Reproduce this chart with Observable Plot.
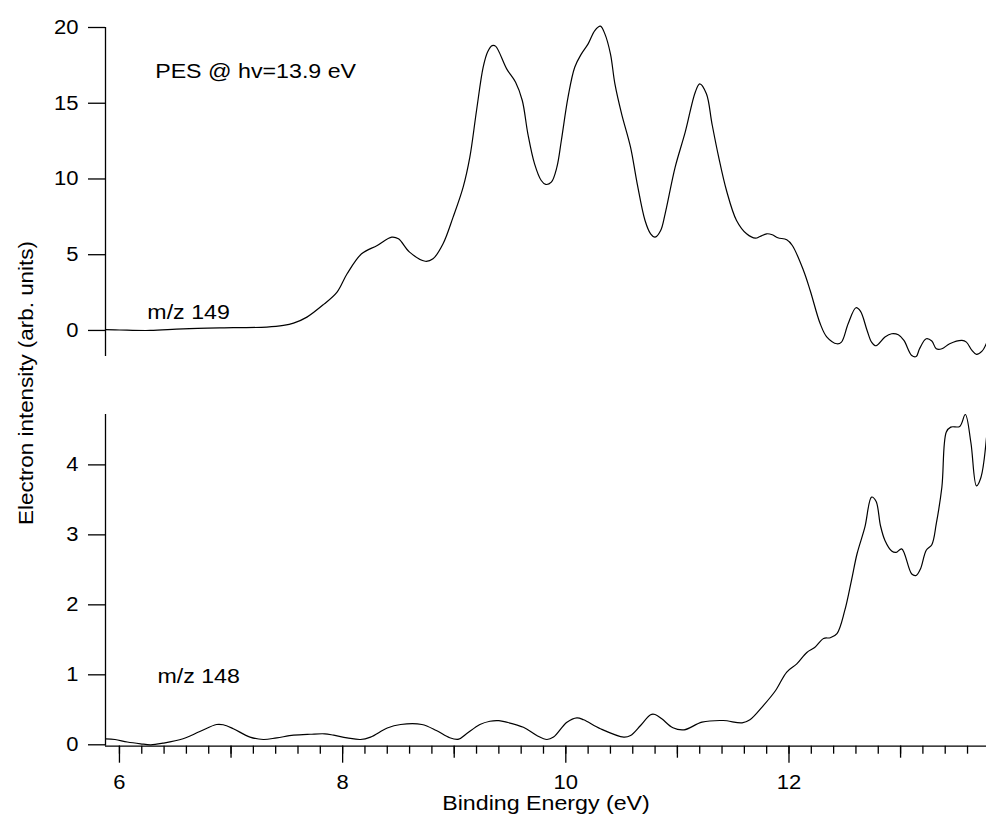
<!DOCTYPE html>
<html><head><meta charset="utf-8">
<script src="https://cdn.jsdelivr.net/npm/d3@7"></script>
<script src="https://cdn.jsdelivr.net/npm/@observablehq/plot@0.6"></script>
<style>
body{margin:0;background:#fff;}
#wrap{position:relative;width:986px;height:827px;font-family:"Liberation Sans",Arial,sans-serif;background:#fff;}
#wrap svg{display:block;}
#ylab{position:absolute;left:26px;top:383px;font-size:20px;line-height:1;white-space:nowrap;transform:translate(-50%,-50%) rotate(-90deg) scaleX(1.12);color:#000;}
</style></head><body><div id="wrap"><div id="ylab">Electron intensity (arb. units)</div></div>
<script>
// m/z 149 spectrum (upper panel)
const energy149 = [5.875,6.0,6.275,6.57,7.02,7.32,7.47,7.56,7.68,7.83,7.95,8.04,8.17,8.31,8.44,8.50,8.60,8.74,8.81,8.90,8.99,9.08,9.14,9.20,9.26,9.30,9.34,9.37,9.47,9.55,9.61,9.66,9.72,9.78,9.82,9.87,9.92,9.96,10.02,10.08,10.14,10.20,10.26,10.31,10.35,10.40,10.44,10.50,10.58,10.64,10.71,10.76,10.80,10.85,10.89,10.98,11.07,11.16,11.20,11.26,11.31,11.37,11.44,11.53,11.62,11.70,11.74,11.80,11.85,11.90,11.98,12.03,12.13,12.19,12.28,12.34,12.43,12.47,12.53,12.60,12.64,12.70,12.74,12.78,12.86,12.92,12.98,13.03,13.10,13.14,13.17,13.23,13.28,13.32,13.37,13.44,13.55,13.59,13.64,13.68,13.73,13.77];
const intensity149 = [0.05,0.03,0.0,0.11,0.18,0.22,0.33,0.48,0.88,1.72,2.53,3.74,5.06,5.61,6.16,6.05,5.17,4.57,4.73,5.72,7.48,9.46,11.44,14.52,17.4,18.4,18.8,18.77,17.27,16.39,15.18,12.98,11.0,9.9,9.64,9.79,10.78,12.54,15.4,17.38,18.26,18.92,19.8,20.09,19.58,18.26,16.28,14.3,12.1,9.68,7.26,6.38,6.16,6.6,7.7,10.78,13.09,15.73,16.28,15.62,13.64,11.44,9.24,7.26,6.38,6.09,6.2,6.38,6.32,6.12,5.99,5.61,3.96,2.64,0.44,-0.44,-0.88,-0.77,0.44,1.5,1.27,0.0,-0.77,-1.01,-0.44,-0.22,-0.29,-0.66,-1.65,-1.72,-1.21,-0.55,-0.7,-1.21,-1.21,-0.88,-0.66,-0.77,-1.32,-1.58,-1.37,-0.84];
// m/z 148 spectrum (lower panel)
const energy148 = [5.875,5.96,6.07,6.19,6.28,6.39,6.57,6.72,6.87,6.93,7.02,7.17,7.29,7.41,7.56,7.71,7.84,7.92,8.04,8.16,8.25,8.40,8.52,8.71,8.84,8.96,9.04,9.11,9.23,9.32,9.40,9.47,9.62,9.74,9.83,9.89,10.01,10.10,10.16,10.31,10.52,10.58,10.67,10.76,10.80,10.86,10.96,11.06,11.22,11.41,11.58,11.65,11.77,11.88,11.98,12.07,12.16,12.23,12.31,12.37,12.43,12.50,12.56,12.61,12.68,12.74,12.78,12.82,12.86,12.92,12.96,13.01,13.10,13.14,13.18,13.23,13.28,13.32,13.37,13.41,13.45,13.53,13.58,13.63,13.68,13.72,13.77];
const intensity148 = [0.086,0.076,0.04,0.014,0.0,0.023,0.086,0.19,0.29,0.286,0.23,0.11,0.076,0.1,0.137,0.151,0.157,0.137,0.1,0.076,0.11,0.24,0.29,0.29,0.204,0.1,0.08,0.157,0.29,0.337,0.345,0.323,0.25,0.133,0.076,0.11,0.323,0.386,0.357,0.23,0.11,0.133,0.276,0.43,0.433,0.371,0.243,0.214,0.323,0.347,0.314,0.357,0.56,0.776,1.04,1.157,1.32,1.39,1.52,1.53,1.59,1.92,2.35,2.73,3.11,3.54,3.48,3.13,2.92,2.77,2.75,2.8,2.44,2.42,2.52,2.78,2.86,3.16,3.68,4.47,4.54,4.55,4.72,4.32,3.70,3.82,4.39];

const xDomain = [5.875, 13.77];
const yDomain149 = [-1.72, 20];
const yDomain148 = [-0.02, 4.72];
const yTicks149 = [0, 5, 10, 15, 20];
const yTicks148 = [0, 1, 2, 3, 4];
const xMajorTicks = [6, 8, 10, 12];
const xMediumTicks = [7, 9, 11, 13];
const xMinorTicks = d3.range(30, 69).map(i => i / 5);

const labels149 = [
  {text: "PES @ hv=13.9 eV", energy: 6.32, value: 17.1},
  {text: "m/z 149", energy: 6.25, value: 1.19}
];
const labels148 = [
  {text: "m/z 148", energy: 6.34, value: 0.98}
];
const xTitle = "Binding Energy (eV)";

const d149 = energy149.map((e, i) => ({e, v: intensity149[i]}));
const d148 = energy148.map((e, i) => ({e, v: intensity148[i]}));

const style = {fontFamily: '"Liberation Sans", Arial, sans-serif', fontSize: "20px", color: "black", background: "white", overflow: "visible"};
const intFmt = d => String(d);

const topPlot = Plot.plot({
  width: 986, height: 380,
  marginLeft: 105, marginRight: 0, marginTop: 27, marginBottom: 24,
  style,
  x: {domain: xDomain, axis: null, label: null},
  y: {domain: yDomain149, axis: null, label: null},
  marks: [
    Plot.axisY({ticks: yTicks149, anchor: "left", tickSize: 17, tickPadding: 10, strokeWidth: 1.3, label: null, tickFormat: intFmt, fontSize: 20}),
    Plot.ruleX([xDomain[0]], {stroke: "black", strokeWidth: 1.3}),
    Plot.line(d149, {x: "e", y: "v", stroke: "black", strokeWidth: 1.2, curve: "catmull-rom"}),
    Plot.text(labels149, {x: "energy", y: "value", text: "text", textAnchor: "start", fontSize: 20, fill: "black", className: "anno"})
  ]
});

const bottomPlot = Plot.plot({
  width: 986, height: 447,
  marginLeft: 105, marginRight: 0, marginTop: 34, marginBottom: 81.3,
  style,
  x: {domain: xDomain, axis: null, label: null},
  y: {domain: yDomain148, axis: null, label: null},
  marks: [
    Plot.axisY({ticks: yTicks148, anchor: "left", tickSize: 17, tickPadding: 10, strokeWidth: 1.3, label: null, tickFormat: intFmt, fontSize: 20}),
    Plot.axisX({ticks: xMinorTicks, anchor: "bottom", tickSize: 8, tickFormat: () => "", strokeWidth: 1.3, label: null}),
    Plot.axisX({ticks: xMediumTicks, anchor: "bottom", tickSize: 12, tickFormat: () => "", strokeWidth: 1.3, label: null}),
    Plot.axisX({ticks: xMajorTicks, anchor: "bottom", tickSize: 17, tickPadding: 12, strokeWidth: 1.3, label: null, tickFormat: intFmt, fontSize: 20}),
    Plot.ruleX([xDomain[0]], {stroke: "black", strokeWidth: 1.3}),
    Plot.ruleY([yDomain148[0]], {stroke: "black", strokeWidth: 1.3}),
    Plot.line(d148, {x: "e", y: "v", stroke: "black", strokeWidth: 1.2, curve: "catmull-rom"}),
    Plot.text(labels148, {x: "energy", y: "value", text: "text", textAnchor: "start", fontSize: 20, fill: "black"}),
    Plot.text([xTitle], {frameAnchor: "bottom", dy: 64, fontSize: 20, fill: "black"})
  ]
});

const wrap = document.getElementById("wrap");
wrap.append(topPlot, bottomPlot);

// the reference lettering is drawn slightly wide: stretch glyphs horizontally
for (const t of wrap.querySelectorAll("svg text")) {
  const s = t.textContent;
  if (!s || !s.trim()) continue;
  const isTick = /^-?\d+$/.test(s.trim());
  const k = isTick ? 1.1 : 1.16;
  const L = t.getComputedTextLength();
  if (L > 0) {
    t.setAttribute("textLength", (L * k).toFixed(1));
    t.setAttribute("lengthAdjust", "spacingAndGlyphs");
  }
}
</script>
</body></html>
